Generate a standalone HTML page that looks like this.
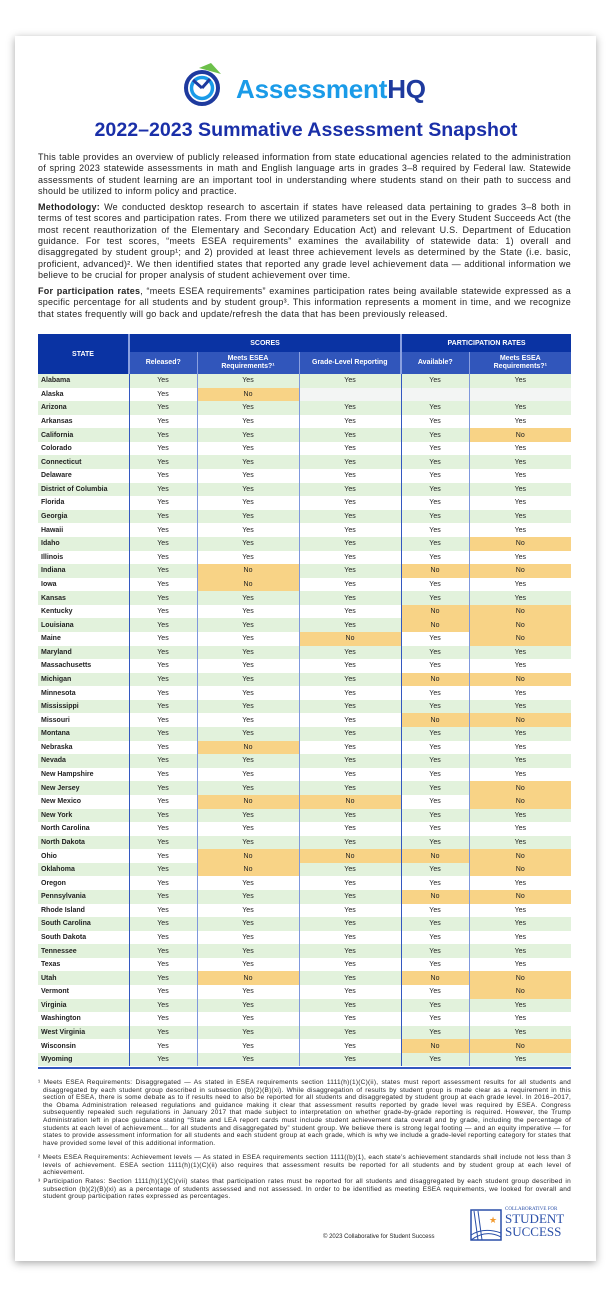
<!DOCTYPE html>
<html><head><meta charset="utf-8"><style>
*{margin:0;padding:0;box-sizing:border-box}
body{width:612px;height:1296px;background:#fff;font-family:"Liberation Sans",sans-serif;position:relative;overflow:hidden}
.paper{position:absolute;left:15px;top:36px;width:581px;height:1225px;background:#fff;box-shadow:0 2px 8px rgba(0,0,0,.35)}
.logo{position:absolute;left:183px;top:62px}
.lt{position:absolute;left:236px;top:74px;font-size:26px;font-weight:bold;color:#1a9be8;letter-spacing:-0.2px}
.lt b{color:#1e3a9e}
.title{position:absolute;left:0;width:612px;top:119px;text-align:center;font-size:19.6px;font-weight:bold;color:#1a2fa8}
.txt{position:absolute;left:38px;width:533px;font-size:9px;letter-spacing:0.25px;line-height:11.35px;text-align:justify;color:#222}
table{position:absolute;left:38px;top:334px;width:533px;border-collapse:collapse;font-size:7px;table-layout:fixed}
td,th{padding:0;text-align:center;height:13.59px;line-height:13px}
th{color:#fff;font-weight:bold}
.h1{background:#0a33a3;height:18px}
.h2{background:#3156bb;height:22px;line-height:8px;border-left:1px solid #8aa0e0}
td{color:#222;border-left:1px solid #7f98dc}
td.s{text-align:left;padding-left:3px;font-weight:bold;border-left:none}
tr.g td{background:#e2f2dc}
td.n{background:#f8d386!important}
td.e{background:#f3f5f4!important}
.bl{border-left:1.5px solid #3358c0!important}
.fn{position:absolute;left:38px;width:533px;font-size:6.5px;letter-spacing:0.25px;line-height:7.6px;text-align:justify;color:#222;padding-left:5px;text-indent:-5px}
</style></head><body>
<div class="paper"></div>
<svg class="logo" width="42" height="46" viewBox="0 0 42 46">
<circle cx="19" cy="26" r="16" fill="none" stroke="#1e3a9e" stroke-width="4"/>
<circle cx="19" cy="26" r="10.5" fill="none" stroke="#1a9be8" stroke-width="3.5"/>
<path d="M19 26 L10 18" stroke="#1e3a9e" stroke-width="3"/>
<path d="M19 26 L27 17" stroke="#1e3a9e" stroke-width="3"/>
<path d="M16 6 L28 1 L38 12 Z" fill="#6cc04a"/>
</svg>
<div class="lt">Assessment<b>HQ</b></div>
<div class="title">2022–2023 Summative Assessment Snapshot</div>
<div class="txt" style="top:152px">This table provides an overview of publicly released information from state educational agencies related to the administration of spring 2023 statewide assessments in math and English language arts in grades 3–8 required by Federal law. Statewide assessments of student learning are an important tool in understanding where students stand on their path to success and should be utilized to inform policy and practice.</div>
<div class="txt" style="top:202px"><b>Methodology:</b> We conducted desktop research to ascertain if states have released data pertaining to grades 3–8 both in terms of test scores and participation rates. From there we utilized parameters set out in the Every Student Succeeds Act (the most recent reauthorization of the Elementary and Secondary Education Act) and relevant U.S. Department of Education guidance. For test scores, “meets ESEA requirements” examines the availability of statewide data: 1) overall and disaggregated by student group¹; and 2) provided at least three achievement levels as determined by the State (i.e. basic, proficient, advanced)². We then identified states that reported any grade level achievement data — additional information we believe to be crucial for proper analysis of student achievement over time.</div>
<div class="txt" style="top:286px"><b>For participation rates</b>, “meets ESEA requirements” examines participation rates being available statewide expressed as a specific percentage for all students and by student group³. This information represents a moment in time, and we recognize that states frequently will go back and update/refresh the data that has been previously released.</div>
<table>
<colgroup><col style="width:91px"><col style="width:68px"><col style="width:102px"><col style="width:102px"><col style="width:68px"><col style="width:102px"></colgroup>
<tr><th class="h1" rowspan="2" style="background:#0a33a3">STATE</th><th class="h1" colspan="3" style="border-left:2px solid #8aa0e0">SCORES</th><th class="h1" colspan="2" style="border-left:2px solid #8aa0e0">PARTICIPATION RATES</th></tr>
<tr><th class="h2" style="border-left:2px solid #8aa0e0">Released?</th><th class="h2">Meets ESEA<br>Requirements?¹</th><th class="h2">Grade-Level Reporting</th><th class="h2" style="border-left:2px solid #8aa0e0">Available?</th><th class="h2">Meets ESEA<br>Requirements?¹</th></tr>
<tbody id="tb"></tbody>
</table>
<script>
var d=[["Alabama","YYYY"],["Alaska","N---"],["Arizona","YYYY"],["Arkansas","YYYY"],["California","YYYN"],["Colorado","YYYY"],["Connecticut","YYYY"],["Delaware","YYYY"],["District of Columbia","YYYY"],["Florida","YYYY"],["Georgia","YYYY"],["Hawaii","YYYY"],["Idaho","YYYN"],["Illinois","YYYY"],["Indiana","NYNN"],["Iowa","NYYY"],["Kansas","YYYY"],["Kentucky","YYNN"],["Louisiana","YYNN"],["Maine","YNYN"],["Maryland","YYYY"],["Massachusetts","YYYY"],["Michigan","YYNN"],["Minnesota","YYYY"],["Mississippi","YYYY"],["Missouri","YYNN"],["Montana","YYYY"],["Nebraska","NYYY"],["Nevada","YYYY"],["New Hampshire","YYYY"],["New Jersey","YYYN"],["New Mexico","NNYN"],["New York","YYYY"],["North Carolina","YYYY"],["North Dakota","YYYY"],["Ohio","NNNN"],["Oklahoma","NYYN"],["Oregon","YYYY"],["Pennsylvania","YYNN"],["Rhode Island","YYYY"],["South Carolina","YYYY"],["South Dakota","YYYY"],["Tennessee","YYYY"],["Texas","YYYY"],["Utah","NYNN"],["Vermont","YYYN"],["Virginia","YYYY"],["Washington","YYYY"],["West Virginia","YYYY"],["Wisconsin","YYNN"],["Wyoming","YYYY"]];
var h="";d.forEach(function(r,i){h+='<tr'+(i%2==0?' class="g"':'')+'><td class="s">'+r[0]+'</td><td class="bl">Yes</td>';for(var j=0;j<4;j++){var c=r[1][j];var cls=(j==2?'bl ':'')+(c=='N'?'n':c=='-'?'e':'');h+='<td class="'+cls+'">'+(c=='Y'?'Yes':c=='N'?'No':'')+'</td>';}h+='</tr>';});
document.getElementById('tb').innerHTML=h;
</script>
<div style="position:absolute;left:38px;top:1067px;width:533px;height:1.5px;background:#3358c0"></div>
<div class="fn" style="top:1079px">¹ Meets ESEA Requirements: Disaggregated — As stated in ESEA requirements section 1111(h)(1)(C)(ii), states must report assessment results for all students and disaggregated by each student group described in subsection (b)(2)(B)(xi). While disaggregation of results by student group is made clear as a requirement in this section of ESEA, there is some debate as to if results need to also be reported for all students and disaggregated by student group at each grade level. In 2016–2017, the Obama Administration released regulations and guidance making it clear that assessment results reported by grade level was required by ESEA. Congress subsequently repealed such regulations in January 2017 that made subject to interpretation on whether grade-by-grade reporting is required. However, the Trump Administration left in place guidance stating “State and LEA report cards must include student achievement data overall and by grade, including the percentage of students at each level of achievement... for all students and disaggregated by” student group. We believe there is strong legal footing — and an equity imperative — for states to provide assessment information for all students and each student group at each grade, which is why we include a grade-level reporting category for states that have provided some level of this additional information.</div>
<div class="fn" style="top:1154px">² Meets ESEA Requirements: Achievement levels — As stated in ESEA requirements section 1111((b)(1), each state’s achievement standards shall include not less than 3 levels of achievement. ESEA section 1111(h)(1)(C)(ii) also requires that assessment results be reported for all students and by student group at each level of achievement.</div>
<div class="fn" style="top:1178px">³ Participation Rates: Section 1111(h)(1)(C)(vii) states that participation rates must be reported for all students and disaggregated by each student group described in subsection (b)(2)(B)(xi) as a percentage of students assessed and not assessed. In order to be identified as meeting ESEA requirements, we looked for overall and student group participation rates expressed as percentages.</div>
<div style="position:absolute;left:323px;top:1234px;font-size:6px;color:#222">© 2023 Collaborative for Student Success</div>
<svg style="position:absolute;left:470px;top:1209px" width="32" height="32" viewBox="0 0 32 32"><rect x="1" y="1" width="30" height="30" fill="none" stroke="#2a4fa8" stroke-width="1.5"/><path d="M1 31 Q16 20 31 28 M1 26 Q14 18 31 24 M4 2 L8 31 M8 2 L12 31" stroke="#2a4fa8" fill="none"/><text x="19" y="14" font-size="9" fill="#f29a2e">★</text></svg>
<div style="position:absolute;left:505px;top:1207px;color:#2a4fa8;font-family:'Liberation Serif',serif;line-height:1">
<div style="font-size:5px">COLLABORATIVE FOR</div><div style="font-size:13px">STUDENT</div><div style="font-size:13px">SUCCESS</div></div>
</body></html>
